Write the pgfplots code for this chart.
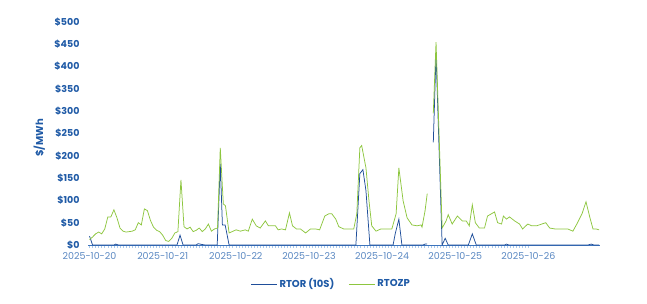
\documentclass[border=0pt]{standalone}
\usepackage{pgfplots}
\pgfplotsset{compat=1.18}
\usepackage{fontspec}
\setmainfont{Poppins}
\definecolor{rtor}{HTML}{1F4E9A}
\definecolor{rtozp}{HTML}{8DC63F}
\definecolor{ylab}{HTML}{1F5AA6}
\definecolor{xlab}{HTML}{5A88C2}
\definecolor{tickc}{HTML}{A9C9EC}
\definecolor{axc}{HTML}{3D74BC}
\begin{document}
\begin{tikzpicture}
\useasboundingbox (0,0) rectangle (647pt,303pt);
\begin{axis}[
  at={(88pt,58pt)}, anchor=south west,
  scale only axis, width=512pt, height=223pt,
  xmin=-0.5, xmax=167.5, ymin=0, ymax=500,
  axis x line=bottom, axis y line=left,
  x axis line style={draw=axc, line width=0.8pt, -},
  y axis line style={draw=none},
  xtick={0,24,48,72,96,120,144},
  xticklabels={2025-10-20,2025-10-21,2025-10-22,2025-10-23,2025-10-24,2025-10-25,2025-10-26},
  minor x tick num=23,
  tick align=outside,
  major x tick style={draw=tickc, line width=0.6pt},
  minor x tick style={draw=tickc, line width=0.6pt},
  major tick length=3pt, minor tick length=3pt,
  ytick={0,50,...,500},
  yticklabels={\$0,\$50,\$100,\$150,\$200,\$250,\$300,\$350,\$400,\$450,\$500},
  major y tick style={draw=none},
  /pgf/number format/assume math mode=true,
  xticklabel style={font=\fontsize{9.5}{11}\selectfont, text=xlab, yshift=-1pt},
  yticklabel style={font=\fontsize{9.5}{12}\selectfont\bfseries, text=ylab, xshift=-2pt},
  ylabel={\$/MWh},
  ylabel style={font=\fontsize{10}{12}\selectfont\bfseries, text=ylab, at={(axis description cs:-0.095,0.48)}, anchor=center, rotate=0},
  unbounded coords=jump,
  legend columns=2,
  legend style={draw=none, at={(axis description cs:0.475,-0.175)}, anchor=center,
    font=\fontsize{10}{12}\selectfont\bfseries, text=ylab,
    /tikz/every even column/.append style={column sep=12pt}},
  legend image code/.code={\draw[#1, line width=1pt] (0pt,0pt) -- (26pt,0pt);},
  clip=false,
]
\addplot[rtor, line width=0.75pt] coordinates {
(0,20) (1,0) (8,0) (8.6,2) (9.5,0) (28.7,0) (29.7,22) (30.7,0)
(35,0) (35.6,3) (37,1) (38,0) (41.9,0) (42.9,182) (43.6,45) (44.5,45) (45.8,0)
(87.4,0) (88.7,160) (89.7,169) (90.7,122) (92,0)
(99.6,0) (100.3,25) (101.5,58) (102.5,0) (109.4,0) (110.1,2) (110.8,2)
(111.8,nan)
(112.8,230) (113.7,430) (115.7,0) (116.7,15) (117.7,0) (124.3,0) (125.6,25) (126.9,0)
(136.2,0) (136.8,2) (137.6,0) (163.5,0) (164.6,2) (165.5,0) (167.2,0)
};
\addlegendentry{RTOR (10S)}
\addplot[rtozp, line width=0.75pt] coordinates {
(0,12) (1,18) (2,25) (3,29) (4,25) (5,36) (6,63) (7,63) (8,79) (9,61) (10,38) (11,31)
(12,29) (13,30) (14,31) (15,34) (16,50) (17,45) (18,81) (19,77) (20,55) (21,40) (22,33)
(23,30) (24,22) (25,10) (26,8) (27,15) (28,27) (29,30) (30,146) (31,41) (32,36) (33,40)
(34,30) (35,33) (36,38) (37,30) (38,36) (39,47) (40,31) (41,36) (42,38) (42.9,218)
(43.9,92) (44.6,88) (45.8,27) (48.1,34) (49.5,31) (51.1,34) (52.1,31) (53.4,58)
(54.7,43) (56,38) (57.7,54) (58.7,43) (61,43) (61.9,34) (63,36) (64.3,34) (65.6,72)
(66.6,43) (67.9,36) (69.2,36) (70.9,27) (72.5,36) (74.2,36) (75.5,34) (77.2,65)
(78.5,70) (79.5,70) (80.8,58) (81.8,41) (83.4,36) (86.7,36) (87.7,70) (88.7,218)
(89.3,223) (90.7,173) (91.7,99) (92.6,43) (94,31) (95.6,36) (99.2,36) (100.6,70)
(101.5,173) (102.9,99) (104.2,61) (105.8,45) (107.5,43) (108.8,45) (109.1,40)
(110.1,77) (110.8,115)
(111.8,nan)
(112.8,295) (113.7,455) (115.7,38) (117,54) (117.7,68) (119,47) (120.7,65) (122.3,54)
(123.6,54) (124.6,43) (125.6,90) (126.6,50) (127.9,38) (129.6,38) (130.6,65) (132.9,74)
(133.9,50) (135.2,47) (135.8,65) (136.8,58) (137.8,63) (139.5,54) (141.1,47) (142.1,36)
(143.8,47) (145.1,43) (146.7,43) (148.4,47) (149.7,50) (151,38) (152.7,36) (156.9,36)
(158.6,31) (159.9,47) (161.6,70) (162.9,97) (164.2,61) (165.2,36) (166.2,36) (167.2,34)
};
\addlegendentry{RTOZP}
\end{axis}
\end{tikzpicture}
\end{document}
